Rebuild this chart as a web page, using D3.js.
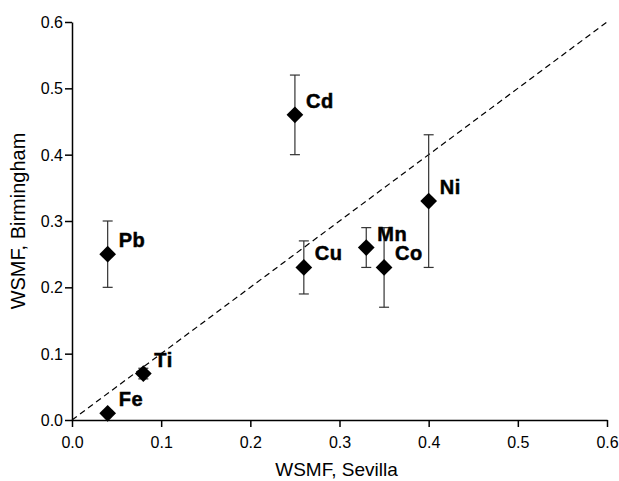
<!DOCTYPE html>
<html>
<head>
<meta charset="utf-8">
<script src="https://cdn.jsdelivr.net/npm/d3@7"></script>
<style>
body { margin: 0; background: #fff; }
svg { display: block; font-family: Arial, "Liberation Sans", sans-serif; }
</style>
</head>
<body>
<svg id="chart" width="619" height="481"></svg>
<script>
const elements = ["Fe", "Ti", "Pb", "Cd", "Cu", "Mn", "Co", "Ni"];
const sevilla = [0.04, 0.08, 0.04, 0.25, 0.26, 0.33, 0.35, 0.40];
const birmingham = [0.01, 0.07, 0.25, 0.46, 0.23, 0.26, 0.23, 0.33];
const errLow = [0.0, 0.008, 0.05, 0.06, 0.04, 0.03, 0.06, 0.10];
const errHigh = [0.0, 0.008, 0.05, 0.06, 0.04, 0.03, 0.06, 0.10];
const tickValues = [0.0, 0.1, 0.2, 0.3, 0.4, 0.5, 0.6];

const svg = d3.select("#chart");
const margin = { left: 72, right: 12, top: 22, bottom: 61 };
const W = 619, H = 481;
const x = d3.scaleLinear().domain([0, 0.6]).range([margin.left, W - margin.right]);
const y = d3.scaleLinear().domain([0, 0.6]).range([H - margin.bottom, margin.top]);

const data = elements.map((e, i) => ({ e, x: sevilla[i], y: birmingham[i], lo: errLow[i], hi: errHigh[i] }));

// 1:1 dashed line
svg.append("line")
  .attr("x1", x(0)).attr("y1", y(0))
  .attr("x2", x(0.6)).attr("y2", y(0.6))
  .attr("stroke", "#000").attr("stroke-width", 1.2)
  .attr("stroke-dasharray", "6,4");

// axes
const xAxis = svg.append("g")
  .attr("transform", `translate(0,${y(0)})`)
  .call(d3.axisBottom(x).tickValues(tickValues).tickFormat(d3.format(".1f")).tickSize(7).tickSizeOuter(0));
const yAxis = svg.append("g")
  .attr("transform", `translate(${x(0)},0)`)
  .call(d3.axisLeft(y).tickValues(tickValues).tickFormat(d3.format(".1f")).tickSize(7).tickSizeOuter(0));
[xAxis, yAxis].forEach(g => {
  g.select(".domain").attr("stroke", "#000").attr("stroke-width", 1.5);
  g.selectAll(".tick line").attr("stroke", "#000").attr("stroke-width", 1.5);
  g.selectAll(".tick text").attr("fill", "#000").attr("font-size", 16).attr("font-family", "Arial, 'Liberation Sans', sans-serif");
});
xAxis.selectAll(".tick text").attr("y", 28).attr("dy", 0);
yAxis.selectAll(".tick text").attr("x", -9).attr("dy", "0.35em");

// axis titles
svg.append("text")
  .attr("x", x(0.3) - 3).attr("y", 476)
  .attr("text-anchor", "middle").attr("font-size", 19).attr("fill", "#000")
  .text("WSMF, Sevilla");
svg.append("text")
  .attr("transform", `translate(25,${y(0.3)}) rotate(-90)`)
  .attr("text-anchor", "middle").attr("font-size", 20).attr("fill", "#000")
  .text("WSMF, Birmingham");

// error bars
const eb = svg.append("g").attr("stroke", "#333").attr("stroke-width", 1.2);
data.filter(d => d.lo > 0 || d.hi > 0).forEach(d => {
  const cx = x(d.x);
  eb.append("line").attr("x1", cx).attr("x2", cx).attr("y1", y(d.y - d.lo)).attr("y2", y(d.y + d.hi));
  eb.append("line").attr("x1", cx - 5).attr("x2", cx + 5).attr("y1", y(d.y - d.lo)).attr("y2", y(d.y - d.lo));
  eb.append("line").attr("x1", cx - 5).attr("x2", cx + 5).attr("y1", y(d.y + d.hi)).attr("y2", y(d.y + d.hi));
});

// diamonds
const diamond = d3.symbol().type(d3.symbolSquare).size(140);
svg.append("g").selectAll("path").data(data).join("path")
  .attr("d", diamond)
  .attr("transform", d => `translate(${x(d.x)},${y(d.y)}) rotate(45)`)
  .attr("fill", "#000");

// labels
svg.append("g").selectAll("text").data(data).join("text")
  .attr("x", d => x(d.x) + 11)
  .attr("y", d => y(d.y) - 7)
  .attr("font-size", 20).attr("font-weight", "bold").attr("fill", "#000")
  .attr("stroke", "#000").attr("stroke-width", 0.5)
  .attr("letter-spacing", 0.6)
  .text(d => d.e);
</script>
</body>
</html>
